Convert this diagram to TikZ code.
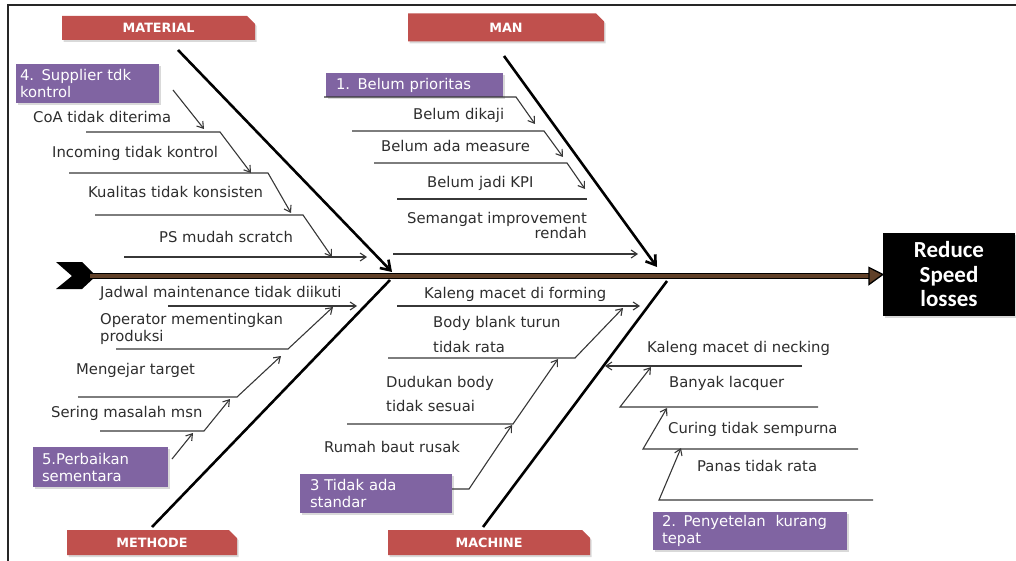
\documentclass[tikz,border=0pt]{standalone}
\usepackage{fontspec}
\setmainfont{DejaVu Sans}
\newfontfamily\calib{Carlito}
\usetikzlibrary{arrows.meta,shapes.misc,shadows}
\definecolor{hdrred}{RGB}{192,80,77}
\definecolor{purp}{RGB}{128,100,162}
\definecolor{spinebrown}{RGB}{96,64,40}
\definecolor{linegray}{RGB}{55,55,55}
\definecolor{txtgray}{RGB}{45,45,45}
\tikzset{
  shad/.style={drop shadow={shadow xshift=1.5pt,shadow yshift=-2pt,opacity=0.3}},
  hdr/.style={chamfered rectangle, chamfered rectangle corners=north east,
    chamfered rectangle xsep=4pt, chamfered rectangle ysep=4pt,
    fill=hdrred, text=white, inner sep=0pt, shad,
    font=\fontsize{12.8}{14}\selectfont\bfseries},
  pbox/.style={rectangle, fill=purp, text=white, align=left, inner ysep=0pt, shad,
    font=\fontsize{14.8}{17}\selectfont},
  effect/.style={rectangle, fill=black, text=white, align=center, inner sep=0pt, shad,
    font=\calib\fontsize{23}{24.5}\selectfont\bfseries},
  lbl/.style={inner sep=0pt, text=txtgray, font=\fontsize{14.8}{17}\selectfont},
  thinl/.style={draw=linegray, line width=1.1pt},
  arr/.style={thinl, -{Straight Barb[length=6pt,width=8pt,line width=1.1pt]}},
  bone/.style={draw=black, line width=2.6pt},
  bonearr/.style={bone, -{Straight Barb[length=9pt,width=12pt,line width=2.6pt]}},
}
\begin{document}
\begin{tikzpicture}[x=1pt,y=-1pt]
\useasboundingbox (0,0) rectangle (1016,561);
% frame
\draw[line width=1.6pt, black!85] (8,561) -- (8,5) -- (1016,5);

% headers
\node[hdr, minimum width=193pt, minimum height=24pt] (hmat) at (158.5,28) {MATERIAL};
\node[hdr, minimum width=196pt, minimum height=28pt] (hman) at (506,27.5) {MAN};
\node[hdr, minimum width=170pt, minimum height=25pt] (hmet) at (152,542.5) {METHODE};
\node[hdr, minimum width=202pt, minimum height=25pt] (hmac) at (489,542.5) {MACHINE};

% effect
\node[effect, minimum width=132pt, minimum height=83pt] (eff) at (949,274.5) {Reduce\\Speed\\losses};

% spine
\fill[black] (56,262) -- (82,262) -- (96,276) -- (82,289) -- (56,289) -- (72,276) -- cycle;
\coordinate (sp0) at (90,276);
\coordinate (sp1) at (871,276);
\draw[line width=6.5pt, black] (sp0) -- (sp1);
\draw[line width=3.6pt, spinebrown] (sp0) -- (sp1);
\draw[fill=spinebrown, line width=1.3pt, line join=miter] (869,267.5) -- (eff.west) -- (869,284.5) -- cycle;

% main bones
\coordinate (bmat0) at (178,50);   \coordinate (bmat1) at (392,272);
\coordinate (bman0) at (504,56);   \coordinate (bman1) at (657,267);
\coordinate (bmet0) at (152,527);  \coordinate (bmet1) at (390,280);
\coordinate (bmac0) at (483,527);  \coordinate (bmac1) at (667,281);
\draw[bonearr] (bmat0) -- (bmat1);
\draw[bonearr] (bman0) -- (bman1);
\draw[bone] (bmet0) -- (bmet1);
\draw[bone] (bmac0) -- (bmac1);

% purple boxes
\node[pbox, minimum height=39pt, text width=135pt, inner xsep=4pt] (p4) at (87.5,83.5) {\strut 4. Supplier tdk\\kontrol};
\node[pbox, minimum height=24pt, text width=157pt, inner xsep=10pt] (p1) at (414.5,85) {1. Belum prioritas};
\node[pbox, minimum height=40pt, text width=117pt, inner xsep=9pt] (p5) at (100.5,467) {\strut 5.Perbaikan\\sementara};
\node[pbox, minimum height=39pt, text width=132pt, inner xsep=10pt] (p3) at (376,493.5) {\strut 3 Tidak ada\\standar};
\node[pbox, minimum height=38pt, text width=176pt, inner xsep=9pt] (p2) at (750,531) {\strut 2. Penyetelan\ \ kurang\\tepat};

% ---------- MATERIAL causes ----------
\node[lbl, anchor=base west] (t1) at (33,123) {CoA tidak diterima};
\node[lbl, anchor=base west] (t2) at (52,158) {Incoming tidak kontrol};
\node[lbl, anchor=base west] (t3) at (88,198) {Kualitas tidak konsisten};
\node[lbl, anchor=base west] (t4) at (159,243) {PS mudah scratch};
\coordinate (a0s) at (173,90);  \coordinate (a0e) at (204,129);
\draw[arr] (a0s) -- (a0e);
\coordinate (a1l) at (86,132);  \coordinate (a1r) at (220,132);  \coordinate (a1e) at (251,173);
\draw[arr] (a1l) -- (a1r) -- (a1e);
\coordinate (a2l) at (69,173);  \coordinate (a2r) at (268,173);  \coordinate (a2e) at (291,213);
\draw[arr] (a2l) -- (a2r) -- (a2e);
\coordinate (a3l) at (95,215);  \coordinate (a3r) at (303,215);  \coordinate (a3e) at (332,257);
\draw[arr] (a3l) -- (a3r) -- (a3e);
\coordinate (a4l) at (124,257); \coordinate (a4e) at (367,257);
\draw[arr] (a4l) -- (a4e);

% ---------- MAN causes ----------
\node[lbl, anchor=base west] (m1) at (413,120) {Belum dikaji};
\node[lbl, anchor=base west] (m2) at (381,152) {Belum ada measure};
\node[lbl, anchor=base west] (m3) at (427,188) {Belum jadi KPI};
\node[lbl, anchor=base east, align=right, font=\fontsize{14.8}{16}\selectfont] (m4) at (587,239) {Semangat improvement\\rendah};
\coordinate (b0l) at (324,97);  \coordinate (b0r) at (516,97);  \coordinate (b0e) at (535,124);
\draw[arr] (b0l) -- (b0r) -- (b0e);
\coordinate (b1l) at (352,131); \coordinate (b1r) at (544,131); \coordinate (b1e) at (563,157);
\draw[arr] (b1l) -- (b1r) -- (b1e);
\coordinate (b2l) at (374,163); \coordinate (b2r) at (567,163); \coordinate (b2e) at (585,189);
\draw[arr] (b2l) -- (b2r) -- (b2e);
\coordinate (b3l) at (397,199); \coordinate (b3r) at (587,199);
\draw[thinl] (b3l) -- (b3r);
\coordinate (b4l) at (393,254); \coordinate (b4e) at (638,254);
\draw[arr] (b4l) -- (b4e);

% ---------- METHODE causes ----------
\node[lbl, anchor=base west] (e1) at (100,297) {Jadwal maintenance tidak diikuti};
\node[lbl, anchor=base west, align=left] (e2) at (100,341) {Operator mementingkan\\produksi};
\node[lbl, anchor=base west] (e3) at (76,374) {Mengejar target};
\node[lbl, anchor=base west] (e4) at (51,417) {Sering masalah msn};
\coordinate (c1l) at (168,306); \coordinate (c1e) at (357,306);
\draw[arr] (c1l) -- (c1e);
\coordinate (c2l) at (116,349); \coordinate (c2r) at (288,349); \coordinate (c2e) at (333,307);
\draw[arr] (c2l) -- (c2r) -- (c2e);
\coordinate (c3l) at (78,397);  \coordinate (c3r) at (237,397); \coordinate (c3e) at (281,356);
\draw[arr] (c3l) -- (c3r) -- (c3e);
\coordinate (c4l) at (100,431); \coordinate (c4r) at (204,431); \coordinate (c4e) at (230,399);
\draw[arr] (c4l) -- (c4r) -- (c4e);
\coordinate (c5s) at (172,459); \coordinate (c5e) at (193,433);
\draw[arr] (c5s) -- (c5e);

% ---------- MACHINE causes ----------
\node[lbl, anchor=base west] (k1) at (424,298) {Kaleng macet di forming};
\node[lbl, anchor=base west, align=left, font=\fontsize{14.8}{25}\selectfont] (k2) at (433,352) {Body blank turun\\tidak rata};
\node[lbl, anchor=base west, align=left, font=\fontsize{14.8}{24}\selectfont] (k3) at (386,411) {Dudukan body\\tidak sesuai};
\node[lbl, anchor=base west] (k4) at (324,452) {Rumah baut rusak};
\coordinate (d1l) at (397,306); \coordinate (d1e) at (640,306);
\draw[arr] (d1l) -- (d1e);
\coordinate (d2l) at (388,358); \coordinate (d2r) at (575,358); \coordinate (d2e) at (623,308);
\draw[arr] (d2l) -- (d2r) -- (d2e);
\coordinate (d3l) at (347,424); \coordinate (d3r) at (513,424); \coordinate (d3e) at (558,359);
\draw[arr] (d3l) -- (d3r) -- (d3e);
\coordinate (d4r) at (469,489); \coordinate (d4e) at (512,425);
\draw[arr] (p3.east |- d4r) -- (d4r) -- (d4e);

% ---------- right side (setting) ----------
\node[lbl, anchor=base west] (r1) at (647,352) {Kaleng macet di necking};
\node[lbl, anchor=base west] (r2) at (669,387) {Banyak lacquer};
\node[lbl, anchor=base west] (r3) at (668,433) {Curing tidak sempurna};
\node[lbl, anchor=base west] (r4) at (697,471) {Panas tidak rata};
\coordinate (f1r) at (802,366); \coordinate (f1e) at (605,366);
\draw[arr] (f1r) -- (f1e);
\coordinate (f2r) at (818,407); \coordinate (f2l) at (620,407); \coordinate (f2e) at (651,367);
\draw[arr] (f2r) -- (f2l) -- (f2e);
\coordinate (f3r) at (858,449); \coordinate (f3l) at (643,449); \coordinate (f3e) at (667,408);
\draw[arr] (f3r) -- (f3l) -- (f3e);
\coordinate (f4r) at (873,500); \coordinate (f4l) at (659,500); \coordinate (f4e) at (681,448);
\draw[arr] (f4r) -- (f4l) -- (f4e);
\end{tikzpicture}
\end{document}
